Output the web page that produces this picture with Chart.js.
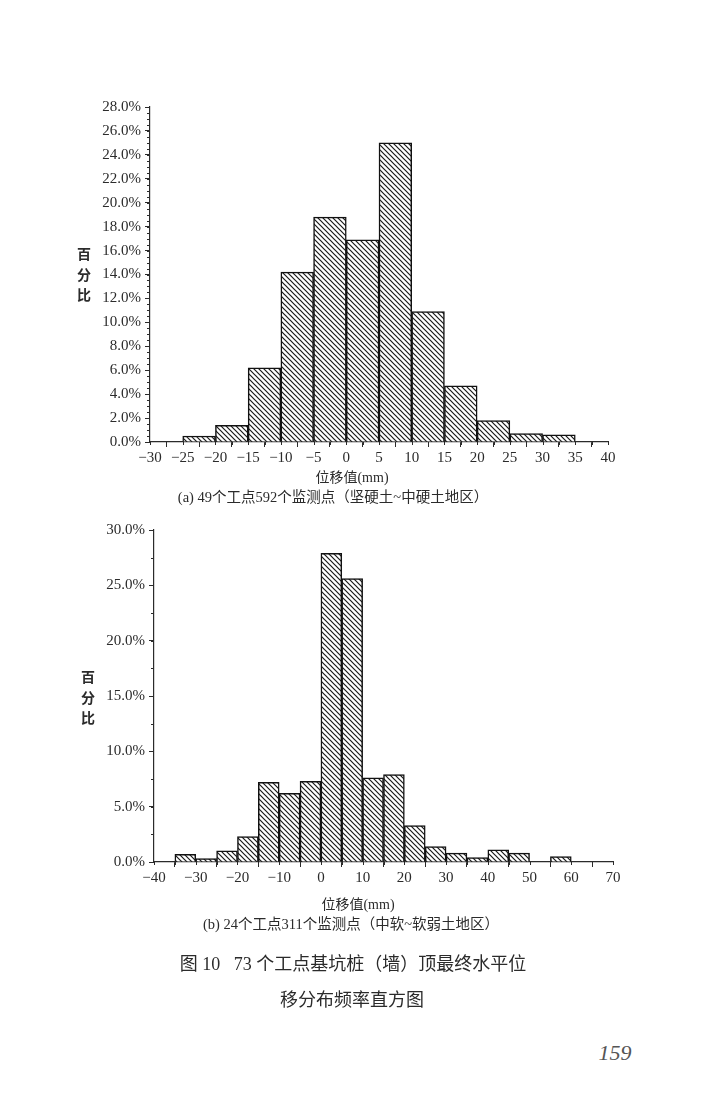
<!DOCTYPE html>
<html>
<head>
<meta charset="utf-8">
<script src="https://cdn.jsdelivr.net/npm/chart.js@4.4.1/dist/chart.umd.min.js"></script>
<style>
  body { margin: 0; background: #fff; width: 720px; height: 1105px; position: relative; overflow: hidden;
         font-family: "Liberation Serif", "Noto Sans CJK SC", serif; color: #2b2b2b; }
  canvas { position: absolute; left: 0; }
  .t { position: absolute; white-space: nowrap; transform: translate(-50%, -50%); z-index: 2; }
  .ylab { position: absolute; width: 20px; text-align: center; font-family: "Noto Sans CJK SC", sans-serif;
          font-weight: bold; font-size: 14px; line-height: 20.5px; z-index: 2; }
</style>
</head>
<body>
<canvas id="chartA" width="720" height="520" style="top:0"></canvas>
<canvas id="chartB" width="720" height="440" style="top:500px"></canvas>

<div class="ylab" style="left:74px; top:243px">百<br>分<br>比</div>
<div class="t" style="left:352px; top:476px; font-size:14px">位移值(mm)</div>
<div class="t" style="left:333px; top:495px; font-size:14.5px">(a) 49个工点592个监测点（坚硬土~中硬土地区）</div>

<div class="ylab" style="left:78px; top:666px">百<br>分<br>比</div>
<div class="t" style="left:358px; top:903px; font-size:14px">位移值(mm)</div>
<div class="t" style="left:351px; top:922px; font-size:14.5px">(b) 24个工点311个监测点（中软~软弱土地区）</div>

<div class="t" style="left:353px; top:962px; font-size:18px">图 10&nbsp;&nbsp;&nbsp;73 个工点基坑桩（墙）顶最终水平位</div>
<div class="t" style="left:352px; top:998px; font-size:18px">移分布频率直方图</div>
<div class="t" style="left:615px; top:1053px; font-size:22px; font-style:italic; color:#555">159</div>

<script>
// chart (a): bins are 5 mm wide, value = left edge of the bin
const binsA = [-25, -20, -15, -10, -5, 0, 5, 10, 15, 20, 25, 30];
const pctA = [0.5, 1.4, 6.2, 14.2, 18.8, 16.9, 25.0, 10.9, 4.7, 1.8, 0.7, 0.6];
const xTicksA = [-30, -25, -20, -15, -10, -5, 0, 5, 10, 15, 20, 25, 30, 35, 40];
const yTicksA = [0, 2, 4, 6, 8, 10, 12, 14, 16, 18, 20, 22, 24, 26, 28];

// chart (b)
const binsB = [-35, -30, -25, -20, -15, -10, -5, 0, 5, 10, 15, 20, 25, 30, 35, 40, 45, 55];
const pctB = [0.7, 0.3, 1.0, 2.3, 7.2, 6.2, 7.3, 27.9, 25.6, 7.6, 7.9, 3.3, 1.4, 0.8, 0.4, 1.1, 0.8, 0.5];
const xTicksB = [-40, -30, -20, -10, 0, 10, 20, 30, 40, 50, 60, 70];
const yTicksB = [0, 5, 10, 15, 20, 25, 30];

const ink = '#2b2b2b';
const tickFont = { family: '"Liberation Serif", serif', size: 15 };

// "\\\\" hatching used inside the bars
const makeHatch = () => {
    const n = 5;
    const c = document.createElement('canvas');
    c.width = n; c.height = n;
    const g = c.getContext('2d');
    g.fillStyle = '#fff';
    g.fillRect(0, 0, n, n);
    g.strokeStyle = '#1a1a1a';
    g.lineWidth = 1.2;
    g.beginPath();
    g.moveTo(-1, -1); g.lineTo(n + 1, n + 1);
    g.moveTo(-1, n - 1); g.lineTo(1, n + 1);
    g.moveTo(n - 1, -1); g.lineTo(n + 1, 1);
    g.stroke();
    return g.createPattern(c, 'repeat');
};

// small ticks between the labelled ones
const minorTicks = {
    id: 'minorTicks',
    afterDraw(chart, args, opts) {
        const { ctx, scales: { x, y } } = chart;
        ctx.save();
        ctx.strokeStyle = ink;
        ctx.lineWidth = 1;
        ctx.beginPath();
        for (let v = y.min; v <= y.max + 1e-9; v += opts.y) {
            const p = Math.round(y.getPixelForValue(v)) + 0.5;
            ctx.moveTo(y.right - 3, p); ctx.lineTo(y.right, p);
        }
        for (let v = x.min; v <= x.max + 1e-9; v += opts.x) {
            const p = Math.round(x.getPixelForValue(v)) + 0.5;
            ctx.moveTo(p, x.top); ctx.lineTo(p, x.top + 3);
        }
        ctx.stroke();
        ctx.restore();
    }
};

const drawHist = (id, bins, pct, xTicks, yTicks, opt) => {
    new Chart(document.getElementById(id), {
        type: 'bar',
        data: {
            datasets: [{
                data: bins.map((b, i) => ({ x: b + 2.5, y: pct[i] })),
                backgroundColor: makeHatch(),
                borderColor: '#111',
                borderWidth: 1.5,
                barPercentage: 1,
                categoryPercentage: 1
            }]
        },
        options: {
            responsive: false,
            animation: false,
            layout: { autoPadding: false, padding: opt.padding },
            plugins: { legend: { display: false }, tooltip: { enabled: false }, minorTicks: opt.minor },
            scales: {
                x: {
                    type: 'linear', offset: false,
                    min: xTicks[0], max: xTicks[xTicks.length - 1],
                    afterBuildTicks: s => { s.ticks = xTicks.map(v => ({ value: v })); },
                    afterFit: s => { s.height = 30; },
                    grid: { drawOnChartArea: false, tickLength: 5, color: ink },
                    border: { color: ink, width: 1.2 },
                    ticks: { color: ink, font: tickFont, padding: 2, maxRotation: 0, autoSkip: false,
                             callback: v => v < 0 ? '\u2212' + (-v) : String(v) }
                },
                y: {
                    min: yTicks[0], max: yTicks[yTicks.length - 1],
                    afterBuildTicks: s => { s.ticks = yTicks.map(v => ({ value: v })); },
                    afterFit: s => { s.width = 60; },
                    grid: { drawOnChartArea: false, tickLength: 5, color: ink },
                    border: { color: ink, width: 1.2 },
                    ticks: { color: ink, font: tickFont, padding: 4, callback: v => v.toFixed(1) + '%' }
                }
            }
        },
        plugins: [minorTicks]
    });
};

drawHist('chartA', binsA, pctA, xTicksA, yTicksA, {
    padding: { left: 90, top: 107, right: 112, bottom: 48 },
    minor: { x: 2.5, y: 0.5 }
});
drawHist('chartB', binsB, pctB, xTicksB, yTicksB, {
    padding: { left: 94, top: 30, right: 107, bottom: 48 },
    minor: { x: 5, y: 2.5 }
});
</script>
</body>
</html>
